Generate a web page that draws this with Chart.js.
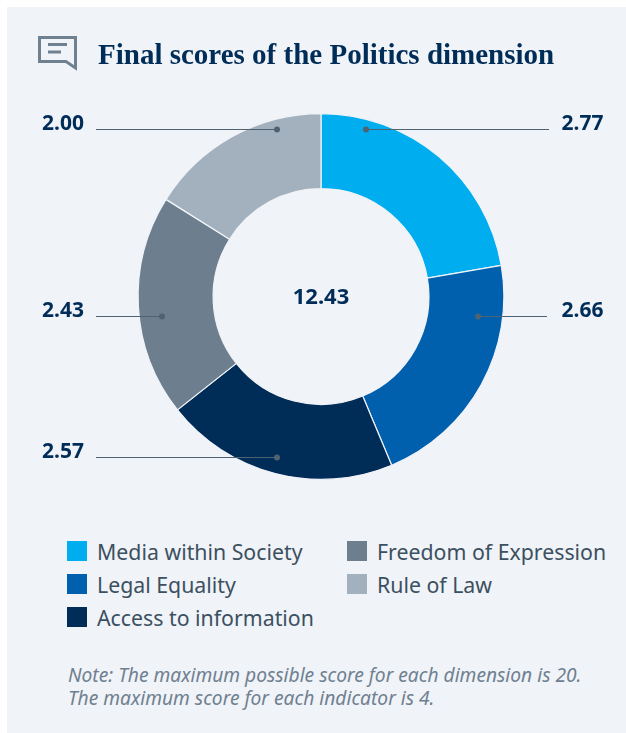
<!DOCTYPE html>
<html>
<head>
<meta charset="utf-8">
<title>Final scores of the Politics dimension</title>
<script src="https://cdn.jsdelivr.net/npm/chart.js@4"></script>
<style>
  html, body { margin: 0; padding: 0; background: #fff; }
  #panel { position: absolute; left: 7px; top: 7px; width: 619px; height: 726px; background: #f0f3f8; overflow: hidden; }
  #wrap { position: absolute; left: 0; top: 0; width: 626px; height: 733px; overflow: hidden; font-family: "Noto Sans", sans-serif; }
  #chart { position: absolute; left: 0; top: 0; }
  #icon { position: absolute; left: 37px; top: 35px; }
  #title { position: absolute; left: 98px; top: 36px; font: bold 29px "Liberation Serif", serif; color: #002c58; line-height: 36px; white-space: nowrap; }
  .item { position: absolute; font-size: 21.3px; line-height: 28px; color: #3c5060; white-space: nowrap; }
  .swatch { position: absolute; width: 20px; height: 20px; }
  #note { position: absolute; left: 68px; top: 663px; font-style: italic; font-size: 19.2px; line-height: 23px; color: #6f8090; white-space: nowrap; }
</style>
</head>
<body>
<div id="wrap">
  <div id="panel"></div>
  <canvas id="chart" width="626" height="500"></canvas>
  <svg id="icon" width="42" height="37" viewBox="0 0 42 37">
    <path d="M2.5 2.5H38.5V33L29 26.5H2.5Z" fill="none" stroke="#6f8090" stroke-width="3"/>
    <path d="M11 9.5H30M11 17H24" stroke="#6f8090" stroke-width="3" fill="none"/>
  </svg>
  <div id="title">Final scores of the Politics dimension</div>
  <div id="legend"></div>
  <div id="note">Note: The maximum possible score for each dimension is 20.<br>The maximum score for each indicator is 4.</div>
</div>
<script>
  var CATEGORIES = ['Media within Society', 'Legal Equality', 'Access to information', 'Freedom of Expression', 'Rule of Law'];
  var SCORES = [2.77, 2.66, 2.57, 2.43, 2.00];
  var TOTAL_LABEL = '12.43';
  var COLORS = ['#00aeef', '#0060ae', '#002c58', '#6d7f8f', '#a3b1be'];

  // Leader lines: dot offset from the ring centre, and where the line stops
  var LEADERS = [
    { dotX: 45, dotY: -167, endX: 549, textX: 582.5 },
    { dotX: 157, dotY: 20, endX: 547, textX: 582.5 },
    { dotX: -44, dotY: 161, endX: 96, textX: 63 },
    { dotX: -159, dotY: 20, endX: 96, textX: 63 },
    { dotX: -44, dotY: -167, endX: 96, textX: 63 }
  ];

  // Legend runs in two columns, top to bottom
  var LEGEND_SLOTS = [[67, 552], [67, 585], [67, 618], [347, 552], [347, 585]];

  var legend = document.getElementById('legend');
  CATEGORIES.forEach(function (name, i) {
    var slot = LEGEND_SLOTS[i];
    var swatch = document.createElement('div');
    swatch.className = 'swatch';
    swatch.style.cssText = 'left:' + slot[0] + 'px;top:' + (slot[1] - 11) + 'px;background:' + COLORS[i];
    legend.appendChild(swatch);
    var item = document.createElement('div');
    item.className = 'item';
    item.style.cssText = 'left:' + (slot[0] + 30) + 'px;top:' + (slot[1] - 14) + 'px';
    item.textContent = name;
    legend.appendChild(item);
  });

  var leaderPlugin = {
    id: 'leaders',
    afterDatasetsDraw: function (chart) {
      var ctx = chart.ctx;
      var arcs = chart.getDatasetMeta(0).data;
      var cx = arcs[0].x;
      var cy = arcs[0].y;
      ctx.save();
      ctx.font = 'bold 21px "Noto Sans", sans-serif';
      ctx.textAlign = 'center';
      ctx.textBaseline = 'alphabetic';
      LEADERS.forEach(function (l, i) {
        var y = Math.floor(cy + l.dotY) + 0.5;
        var x = cx + l.dotX;
        ctx.strokeStyle = '#4f6272';
        ctx.lineWidth = 1.2;
        ctx.beginPath();
        ctx.moveTo(l.endX, y);
        ctx.lineTo(x, y);
        ctx.stroke();
        ctx.fillStyle = '#4f6272';
        ctx.beginPath();
        ctx.arc(x, y, 3, 0, Math.PI * 2);
        ctx.fill();
        ctx.fillStyle = '#002c58';
        ctx.fillText(SCORES[i].toFixed(2), l.textX, y);
      });
      ctx.font = 'bold 22px "Noto Sans", sans-serif';
      ctx.fillText(TOTAL_LABEL, cx, cy + 7);
      ctx.restore();
    }
  };

  new Chart(document.getElementById('chart'), {
    type: 'doughnut',
    data: {
      labels: CATEGORIES,
      datasets: [{
        data: SCORES,
        backgroundColor: COLORS,
        borderColor: '#f0f3f8',
        borderWidth: 1.2
      }]
    },
    options: {
      responsive: false,
      animation: false,
      cutout: '59%',
      layout: { padding: { left: 16, right: 0, top: 113, bottom: 20 } },
      plugins: {
        legend: { display: false },
        tooltip: { enabled: false }
      }
    },
    plugins: [leaderPlugin]
  });
</script>
</body>
</html>
